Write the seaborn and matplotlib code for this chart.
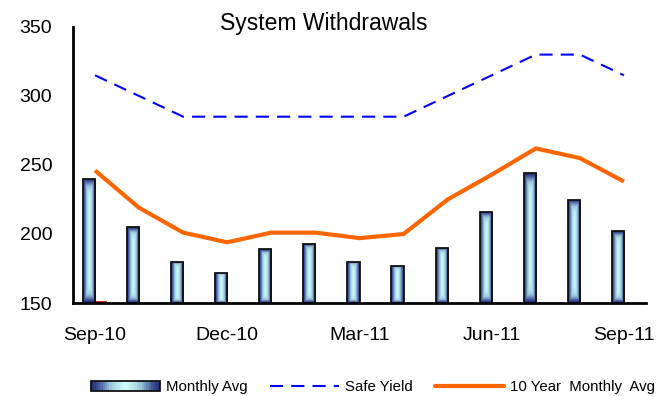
import numpy as np
import pandas as pd
import seaborn as sns
import matplotlib.pyplot as plt
from matplotlib.colors import LinearSegmentedColormap
from matplotlib.patches import Rectangle
from matplotlib.lines import Line2D
from matplotlib.legend_handler import HandlerBase

# --- data ---
months = ["Sep-10", "Oct-10", "Nov-10", "Dec-10", "Jan-11", "Feb-11", "Mar-11",
          "Apr-11", "May-11", "Jun-11", "Jul-11", "Aug-11", "Sep-11"]
monthly_avg = [240, 205, 180, 172, 189, 193, 180, 177, 190, 216, 244, 225, 202]
stray_series = [151.5] + [np.nan] * 12   # tiny red bar next to Sep-10
safe_yield = [315, 300, 285, 285, 285, 285, 285, 285, 300, 315, 330, 330, 315]
ten_year_avg = [246, 219, 201, 194, 201, 201, 197, 200, 225, 243, 262, 255, 238]
label_months = ["Sep-10", "Dec-10", "Mar-11", "Jun-11", "Sep-11"]

sns.set_style("white")
plt.rcParams["font.family"] = ["Liberation Sans", "DejaVu Sans"]
plt.rcParams["text.color"] = "black"
plt.rcParams["xtick.color"] = "black"
plt.rcParams["ytick.color"] = "black"

bars_df = pd.DataFrame({
    "month": months * 2,
    "value": monthly_avg + stray_series,
    "series": ["Monthly Avg"] * 13 + ["Other"] * 13,
})
pos = np.arange(len(months))

fig = plt.figure(figsize=(6.61, 3.96), dpi=100)
ax = fig.add_axes([73 / 661, 1 - 303 / 396, 573 / 661, 276 / 396])

sns.barplot(data=bars_df, x="month", y="value", hue="series", order=months,
            palette={"Monthly Avg": "#3a4d96", "Other": "#ff0000"},
            width=0.55, errorbar=None, legend=False, ax=ax)

# gradient fill: dark navy edges, pale cyan centre
grad = LinearSegmentedColormap.from_list(
    "bar", ["#cdfafb", "#9cc6da", "#4a60a2", "#1d2573"])

ymin, ymax = 150, 350
for patch in ax.containers[0]:
    h = patch.get_height()
    if not np.isfinite(h):
        continue
    x0, w = patch.get_x(), patch.get_width()
    u = np.linspace(-1, 1, 40)
    v = np.linspace(-1, 1, 80)
    U, V = np.meshgrid(u, v)
    t = np.maximum(np.abs(U) ** 1.3, np.abs(V) ** 8)
    im = ax.imshow(t, cmap=grad, vmin=0, vmax=1, aspect="auto",
                   extent=[x0, x0 + w, ymin, h], origin="lower",
                   interpolation="bilinear", zorder=1.5)
    im.set_clip_path(patch)
    patch.set_facecolor("none")
    patch.set_edgecolor("#111111")
    patch.set_linewidth(1.3)
    patch.set_zorder(1.6)
for patch in ax.containers[1]:
    patch.set_edgecolor("none")

sns.lineplot(x=pos, y=safe_yield, ax=ax, color="#0000ff", lw=1.5,
             linestyle=(0, (6.3, 3.9)), zorder=3)
sns.lineplot(x=pos, y=ten_year_avg, ax=ax, color="#ff6600", lw=3,
             zorder=3, solid_capstyle="butt")

ax.set_xlim(-0.5, len(months) - 0.5)
ax.set_ylim(ymin, ymax)
ax.set_yticks([150, 200, 250, 300, 350])
ax.set_xticks(np.arange(-0.5, len(months), 1.0))
ax.set_xticklabels([])
ax.set_xticks([months.index(m) for m in label_months], minor=True)
ax.set_xticklabels(label_months, minor=True)
ax.tick_params(axis="x", which="major", length=5, width=1.5, direction="out")
ax.tick_params(axis="x", which="minor", length=0, pad=17, labelsize=14)
ax.tick_params(axis="y", length=5, width=1.5, direction="out", pad=10,
               labelsize=14)
ax.set_xlabel("")
ax.set_ylabel("")
for side in ["top", "right"]:
    ax.spines[side].set_visible(False)
for side in ["left", "bottom"]:
    ax.spines[side].set_color("black")
    ax.spines[side].set_linewidth(2)
    ax.spines[side].set_zorder(4)

fig.text(0.49, 0.924, "System Withdrawals", ha="center", va="baseline",
         fontsize=16.5)


class GradientBarHandler(HandlerBase):
    def create_artists(self, legend, orig_handle, xdescent, ydescent,
                       width, height, fontsize, trans):
        n = 30
        arts = []
        for i in range(n):
            t = abs((i + 0.5) / n * 2 - 1) ** 1.3
            arts.append(Rectangle((-xdescent + i * width / n, -ydescent),
                                  width / n * 1.1, height,
                                  facecolor=grad(t), edgecolor="none",
                                  transform=trans))
        arts.append(Rectangle((-xdescent, -ydescent), width, height,
                              facecolor="none", edgecolor="#111111",
                              lw=1.3, transform=trans))
        return arts


bar_handle = Rectangle((0, 0), 1, 1)
handles = [
    bar_handle,
    Line2D([], [], color="#0000ff", lw=1.5, linestyle=(0, (6.3, 3.9))),
    Line2D([], [], color="#ff6600", lw=3),
]
labels = ["Monthly Avg", "Safe Yield", "10 Year  Monthly  Avg"]
fig.legend(handles, labels, loc="center left",
           bbox_to_anchor=(91 / 661, 1 - 387 / 396), ncol=3, frameon=False,
           fontsize=10.8, handlelength=4.6, handletextpad=0.4,
           columnspacing=1.5, borderpad=0, borderaxespad=0,
           handler_map={bar_handle: GradientBarHandler()})

fig.savefig("out.png", dpi=100)
